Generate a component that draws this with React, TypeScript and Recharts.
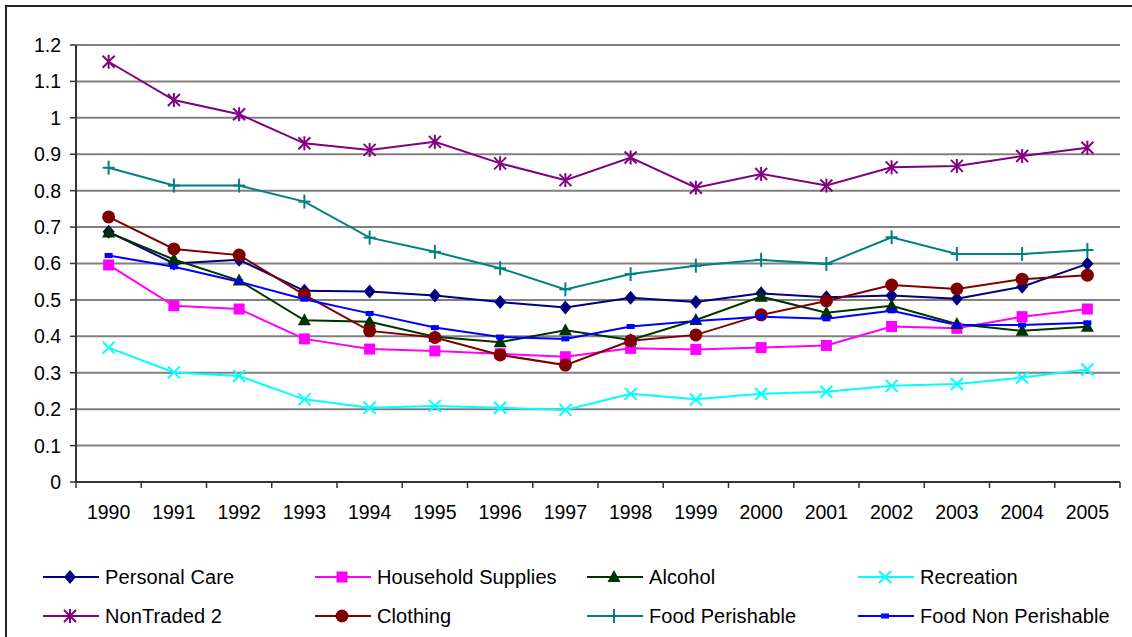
import React from 'react';
import { LineChart, Line, XAxis, YAxis, CartesianGrid } from 'recharts';

const years = ['1990', '1991', '1992', '1993', '1994', '1995', '1996', '1997', '1998', '1999', '2000', '2001', '2002', '2003', '2004', '2005'];

const personalCare = [0.687, 0.600, 0.610, 0.525, 0.523, 0.512, 0.494, 0.479, 0.506, 0.494, 0.518, 0.507, 0.512, 0.503, 0.536, 0.599];
const householdSupplies = [0.596, 0.484, 0.475, 0.393, 0.365, 0.360, 0.352, 0.344, 0.367, 0.364, 0.369, 0.375, 0.427, 0.422, 0.454, 0.475];
const alcohol = [0.685, 0.611, 0.553, 0.444, 0.440, 0.399, 0.384, 0.417, 0.390, 0.445, 0.509, 0.465, 0.484, 0.434, 0.415, 0.426];
const recreation = [0.369, 0.301, 0.291, 0.227, 0.204, 0.209, 0.204, 0.198, 0.242, 0.227, 0.242, 0.248, 0.264, 0.269, 0.287, 0.309];
const nonTraded2 = [1.154, 1.049, 1.010, 0.930, 0.912, 0.934, 0.875, 0.829, 0.891, 0.808, 0.846, 0.814, 0.864, 0.868, 0.895, 0.918];
const clothing = [0.728, 0.640, 0.623, 0.514, 0.415, 0.397, 0.349, 0.321, 0.388, 0.404, 0.459, 0.497, 0.541, 0.530, 0.557, 0.568];
const foodPerishable = [0.863, 0.814, 0.814, 0.770, 0.671, 0.632, 0.587, 0.529, 0.571, 0.594, 0.610, 0.599, 0.672, 0.626, 0.626, 0.637];
const foodNonPerishable = [0.622, 0.591, 0.550, 0.502, 0.463, 0.424, 0.398, 0.393, 0.427, 0.442, 0.454, 0.448, 0.470, 0.431, 0.431, 0.437];

const yTicks = [0, 0.1, 0.2, 0.3, 0.4, 0.5, 0.6, 0.7, 0.8, 0.9, 1, 1.1, 1.2];

type Shape = 'diamond' | 'square' | 'triangle' | 'x' | 'asterisk' | 'circle' | 'plus' | 'dash';

const seriesList: { key: string; name: string; color: string; shape: Shape; values: number[] }[] = [
  { key: 'pc', name: 'Personal Care', color: '#000080', shape: 'diamond', values: personalCare },
  { key: 'hs', name: 'Household Supplies', color: '#FF00FF', shape: 'square', values: householdSupplies },
  { key: 'al', name: 'Alcohol', color: '#003300', shape: 'triangle', values: alcohol },
  { key: 're', name: 'Recreation', color: '#00FFFF', shape: 'x', values: recreation },
  { key: 'nt', name: 'NonTraded 2', color: '#800080', shape: 'asterisk', values: nonTraded2 },
  { key: 'cl', name: 'Clothing', color: '#800000', shape: 'circle', values: clothing },
  { key: 'fp', name: 'Food Perishable', color: '#008080', shape: 'plus', values: foodPerishable },
  { key: 'fn', name: 'Food Non Perishable', color: '#0000FF', shape: 'dash', values: foodNonPerishable },
];

const chartData = years.map((year, i) => {
  const row: { [k: string]: string | number } = { year };
  seriesList.forEach(s => { row[s.key] = s.values[i]; });
  return row;
});

// plot box
const W = 1132;
const H = 637;
const PLOT_LEFT = 76;
const PLOT_RIGHT = 1120;
const PLOT_TOP = 45;
const PLOT_BOTTOM = 482;
const Y_AXIS_W = 60;
const X_AXIS_H = 40;
const HALF_BAND = (PLOT_RIGHT - PLOT_LEFT) / years.length / 2;

const FONT = '"Liberation Sans", Arial, sans-serif';

const marker = (shape: Shape, cx: number, cy: number, color: string, key?: string) => {
  switch (shape) {
    case 'diamond':
      return <polygon key={key} points={`${cx},${cy - 7} ${cx + 6},${cy} ${cx},${cy + 7} ${cx - 6},${cy}`} fill={color} />;
    case 'square':
      return <rect key={key} x={cx - 5.5} y={cy - 5.5} width={11} height={11} fill={color} />;
    case 'triangle':
      return <polygon key={key} points={`${cx},${cy - 7} ${cx + 6.5},${cy + 5} ${cx - 6.5},${cy + 5}`} fill={color} />;
    case 'x':
      return (
        <g key={key} stroke={color} strokeWidth={2}>
          <line x1={cx - 6} y1={cy - 6} x2={cx + 6} y2={cy + 6} />
          <line x1={cx - 6} y1={cy + 6} x2={cx + 6} y2={cy - 6} />
        </g>
      );
    case 'asterisk':
      return (
        <g key={key} stroke={color} strokeWidth={2}>
          <line x1={cx - 6} y1={cy - 6} x2={cx + 6} y2={cy + 6} />
          <line x1={cx - 6} y1={cy + 6} x2={cx + 6} y2={cy - 6} />
          <line x1={cx} y1={cy - 7} x2={cx} y2={cy + 7} />
        </g>
      );
    case 'circle':
      return <circle key={key} cx={cx} cy={cy} r={6.5} fill={color} />;
    case 'plus':
      return (
        <g key={key} stroke={color} strokeWidth={2}>
          <line x1={cx - 6} y1={cy} x2={cx + 6} y2={cy} />
          <line x1={cx} y1={cy - 7} x2={cx} y2={cy + 7} />
        </g>
      );
    case 'dash':
    default:
      return <rect key={key} x={cx - 4} y={cy - 2.5} width={8} height={5} fill={color} />;
  }
};

const XTick = (props: any) => {
  const { x, y, payload, index } = props;
  const last = index === years.length - 1;
  return (
    <g>
      <line x1={x - HALF_BAND} y1={y} x2={x - HALF_BAND} y2={y + 6} stroke="#333" strokeWidth={1.5} />
      {last && <line x1={x + HALF_BAND} y1={y} x2={x + HALF_BAND} y2={y + 6} stroke="#333" strokeWidth={1.5} />}
      <text x={x} y={y + 37} textAnchor="middle" fontSize={19.5} fontFamily={FONT} fill="#000">
        {payload.value}
      </text>
    </g>
  );
};

const legendCols = [43, 315, 587, 858];
const legendRows = [577, 616];

const App: React.FC = () => {
  return (
    <div style={{ position: 'absolute', left: 0, top: 0, width: W, height: H, background: '#fff', overflow: 'hidden', fontFamily: FONT }}>
      <div style={{ position: 'absolute', left: 5, top: 5, width: W + 20, height: H + 20, border: '2px solid #222' }} />
      <div style={{ position: 'absolute', left: 0, top: 0 }}>
        <LineChart
          width={W}
          height={H}
          data={chartData}
          margin={{ top: PLOT_TOP, right: W - PLOT_RIGHT, left: PLOT_LEFT - Y_AXIS_W, bottom: H - PLOT_BOTTOM - X_AXIS_H }}
        >
          <CartesianGrid vertical={false} stroke="#808080" strokeWidth={2} />
          <XAxis
            dataKey="year"
            height={X_AXIS_H}
            padding={{ left: HALF_BAND, right: HALF_BAND }}
            tickSize={0}
            tickMargin={0}
            tickLine={false}
            axisLine={{ stroke: '#333', strokeWidth: 2 }}
            tick={<XTick />}
            interval={0}
          />
          <YAxis
            width={Y_AXIS_W}
            domain={[0, 1.2]}
            ticks={yTicks}
            interval={0}
            tickSize={6}
            tickMargin={9}
            tickFormatter={(v: number) => String(Number(v.toFixed(1)))}
            tick={{ fill: '#000', fontSize: 19.5, fontFamily: FONT }}
            axisLine={{ stroke: '#333', strokeWidth: 2 }}
            tickLine={{ stroke: '#333', strokeWidth: 1.5 }}
          />
          <YAxis
            yAxisId="right"
            orientation="right"
            width={0}
            domain={[0, 1.2]}
            tick={false}
            tickLine={false}
            axisLine={{ stroke: '#808080', strokeWidth: 2 }}
          />
          {seriesList.map(s => (
            <Line
              key={s.key}
              dataKey={s.key}
              name={s.name}
              stroke={s.color}
              strokeWidth={2}
              isAnimationActive={false}
              dot={(p: any) => marker(s.shape, p.cx, p.cy, s.color, `${s.key}-${p.index}`)}
              activeDot={false}
            />
          ))}
        </LineChart>
      </div>
      {seriesList.map((s, i) => {
        const left = legendCols[i % 4];
        const top = legendRows[Math.floor(i / 4)];
        return (
          <div key={s.key} style={{ position: 'absolute', left, top: top - 14, height: 28, display: 'flex', alignItems: 'center', whiteSpace: 'nowrap' }}>
            <svg width={56} height={28} style={{ display: 'block' }}>
              <line x1={0} y1={14} x2={56} y2={14} stroke={s.color} strokeWidth={2} />
              {marker(s.shape, 27, 14, s.color)}
            </svg>
            <span style={{ marginLeft: 6, fontSize: 20, letterSpacing: 0.1, color: '#000' }}>{s.name}</span>
          </div>
        );
      })}
    </div>
  );
};

export default App;
